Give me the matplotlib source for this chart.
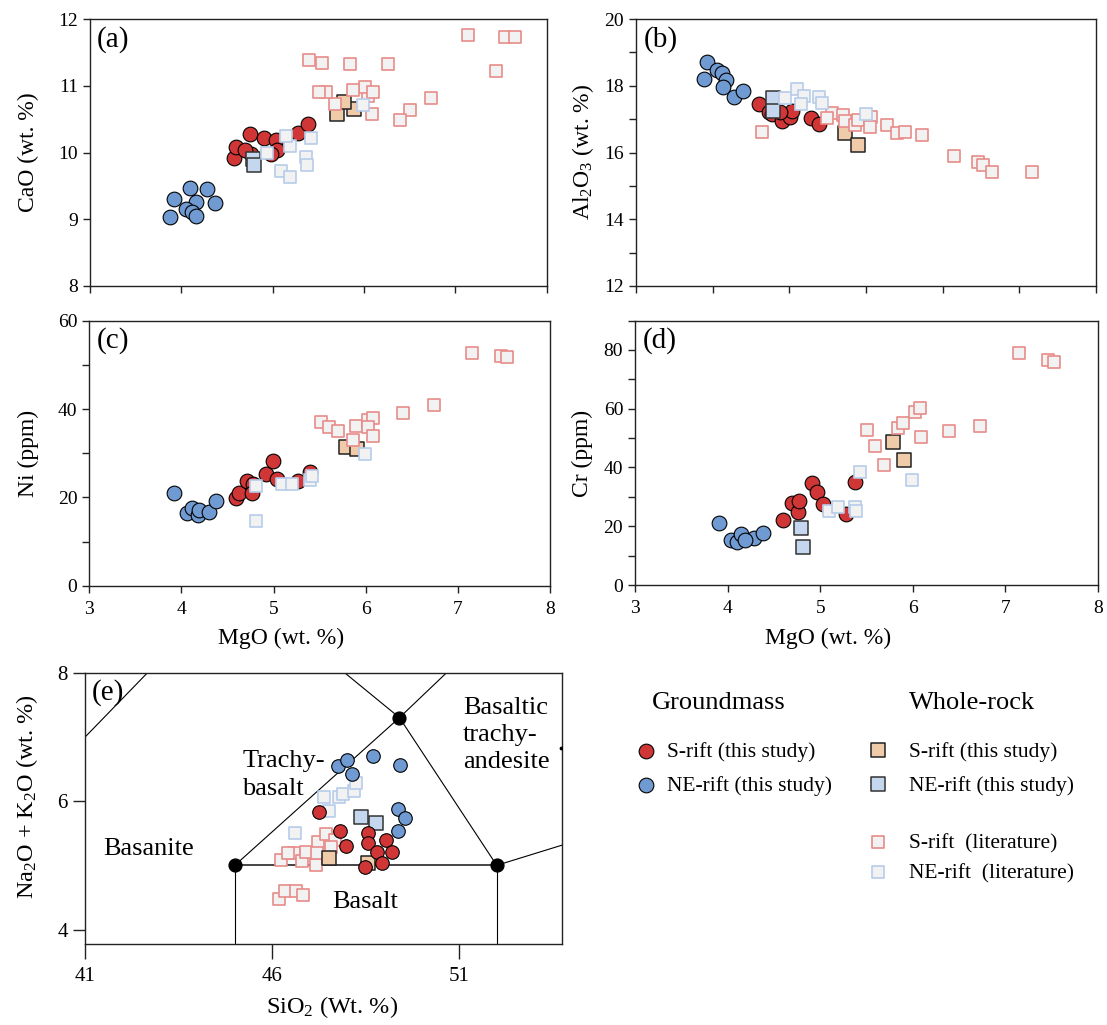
import matplotlib
matplotlib.use("Agg")
import matplotlib.pyplot as plt

plt.rcParams['font.family'] = ['Liberation Serif', 'DejaVu Serif']
plt.rcParams['mathtext.fontset'] = 'custom'
plt.rcParams['mathtext.rm'] = 'Liberation Serif'
plt.rcParams['mathtext.it'] = 'Liberation Serif:italic'

W, H = 1107, 1025

# colours
red_gm = "#D03636"
blue_gm = "#6F9AD2"
tan_wr = "#F0CBAA"
blue_wr = "#C4D7EE"
lit_fill = "#F2F2F2"
lit_red = "#E88C8A"
lit_blue = "#B7CCEA"

# ---- (a) MgO vs CaO
a_gm_s = [[4.58, 9.92], [4.60, 10.08], [4.75, 10.27], [4.91, 10.22], [5.04, 10.18], [5.05, 10.03],
          [4.98, 9.98], [4.77, 9.98], [4.70, 10.04], [5.28, 10.29], [5.39, 10.42]]
a_gm_ne = [[3.88, 9.04], [3.92, 9.30], [4.10, 9.47], [4.28, 9.45], [4.37, 9.25], [4.16, 9.26],
           [4.05, 9.15], [4.12, 9.11], [4.16, 9.05]]
a_wr_s = [[5.71, 10.57], [5.89, 10.65], [5.78, 10.75]]
a_wr_ne = [[4.79, 9.91], [4.80, 9.82]]
a_lit_s = [[5.40, 11.39], [5.54, 11.34], [5.85, 11.32], [6.26, 11.32], [7.14, 11.76], [7.54, 11.73],
           [7.65, 11.73], [7.45, 11.22], [6.73, 10.82], [6.50, 10.64], [6.40, 10.48], [6.09, 10.58],
           [6.04, 10.85], [6.01, 10.98], [6.10, 10.91], [5.88, 10.93], [5.68, 10.73], [5.59, 10.91],
           [5.51, 10.90]]
a_lit_ne = [[5.99, 10.71], [5.42, 10.22], [5.19, 10.10], [5.15, 10.25], [4.94, 10.00], [5.37, 9.94],
            [5.38, 9.81], [5.09, 9.72], [5.19, 9.64]]

# ---- (b) MgO vs Al2O3
b_gm_s = [[4.60, 17.45], [4.73, 17.22], [4.78, 17.15], [4.91, 16.95], [5.01, 17.05], [5.03, 17.24],
          [4.88, 17.22], [5.28, 17.04], [5.39, 16.85]]
b_gm_ne = [[3.92, 18.72], [3.89, 18.21], [4.06, 18.47], [4.12, 18.39], [4.17, 18.17], [4.13, 17.97],
           [4.28, 17.67], [4.39, 17.84]]
b_wr_s = [[5.72, 16.59], [5.90, 16.22]]
b_wr_ne = [[4.79, 17.62], [4.79, 17.25]]
b_lit_s = [[4.64, 16.60], [5.55, 17.19], [5.70, 17.12], [5.49, 17.02], [5.73, 16.94], [5.86, 16.82],
           [5.90, 16.97], [6.07, 17.05], [6.05, 16.76], [6.27, 16.82], [6.40, 16.58], [6.51, 16.62],
           [6.73, 16.52], [7.15, 15.90], [7.46, 15.72], [7.52, 15.63], [7.64, 15.43], [8.16, 15.43]]
b_lit_ne = [[4.94, 17.62], [5.10, 17.89], [5.19, 17.69], [5.15, 17.45], [5.39, 17.65], [5.42, 17.47],
            [6.00, 17.15]]

# ---- (c) MgO vs Ni
c_gm_s = [[4.59, 19.8], [4.62, 20.9], [4.71, 23.8], [4.78, 23.0], [4.77, 20.9], [4.92, 25.4],
          [4.99, 28.3], [5.04, 24.2], [5.27, 23.6], [5.40, 25.8]]
c_gm_ne = [[3.92, 20.9], [4.06, 16.4], [4.12, 17.7], [4.18, 16.0], [4.19, 17.1], [4.30, 16.8],
           [4.38, 19.2]]
c_wr_s = [[5.79, 31.3], [5.90, 30.9]]
c_lit_s = [[5.52, 37.1], [5.60, 36.0], [5.70, 35.1], [5.89, 36.2], [6.02, 37.5], [6.08, 37.9],
           [6.03, 36.0], [6.08, 33.9], [5.86, 33.0], [6.41, 39.0], [6.74, 40.9], [7.15, 52.8],
           [7.47, 52.0], [7.53, 51.7]]
c_lit_ne = [[4.81, 22.6], [5.09, 23.0], [5.20, 23.0], [5.40, 23.9], [5.42, 24.9], [5.99, 29.8],
            [4.81, 14.6]]

# ---- (d) MgO vs Cr
d_gm_s = [[4.60, 22.1], [4.70, 27.8], [4.76, 24.9], [4.77, 28.7], [4.91, 34.6], [4.97, 31.5],
          [5.03, 27.6], [5.28, 24.1], [5.38, 34.9]]
d_gm_ne = [[3.91, 21.2], [4.04, 15.3], [4.10, 14.5], [4.15, 17.3], [4.29, 15.9], [4.38, 17.6],
           [4.19, 15.3]]
d_wr_s = [[5.79, 48.7], [5.90, 42.7]]
d_wr_ne = [[4.79, 19.5], [4.81, 12.8]]
d_lit_s = [[5.51, 52.7], [5.59, 47.3], [5.69, 41.0], [5.84, 53.3], [5.89, 55.0], [6.02, 58.9],
           [6.08, 60.1], [6.09, 50.2], [6.39, 52.4], [6.73, 54.2], [7.15, 78.8], [7.46, 76.5],
           [7.52, 75.9]]
d_lit_ne = [[5.43, 38.5], [5.10, 25.2], [5.19, 26.4], [5.38, 26.6], [5.39, 25.3], [5.99, 35.7]]

# ---- (e) TAS
e_gm_s = [[47.24, 5.83], [47.81, 5.53], [47.98, 5.30], [48.57, 5.51], [48.55, 5.34], [48.80, 5.21],
          [49.04, 5.40], [49.20, 5.21], [48.92, 5.04], [48.47, 4.97]]
e_gm_ne = [[47.76, 6.54], [48.00, 6.64], [48.13, 6.43], [48.70, 6.70], [49.41, 6.57], [49.36, 5.87],
           [49.56, 5.73], [49.36, 5.53]]
e_wr_s = [[47.51, 5.12], [48.55, 5.03]]
e_wr_ne = [[48.37, 5.76], [48.77, 5.66]]
e_lit_s = [[46.23, 5.09], [46.57, 5.19], [46.79, 5.07], [46.89, 5.20], [47.16, 5.00], [47.22, 5.37],
           [47.43, 5.49], [47.68, 5.39], [47.19, 5.19], [47.58, 5.29], [46.42, 5.19], [46.17, 4.47],
           [46.35, 4.60], [46.64, 4.60], [46.82, 4.54]]
e_lit_ne = [[46.61, 5.51], [47.39, 6.07], [47.78, 6.07], [47.88, 6.11], [48.18, 6.15], [48.25, 6.28],
            [47.53, 5.85]]

tas_lines = [[(41, 7), (45, 9.4)], [(45, 9.4), (49.4, 7.3)], [(49.4, 7.3), (53, 9.3)],
             [(45, 5), (49.4, 7.3)], [(49.4, 7.3), (52, 5)], [(45, 0), (45, 5)],
             [(52, 0), (52, 5)], [(52, 5), (57, 5.9)]]
tas_base = [(45, 5), (52, 5)]
tas_nodes = [(45, 5), (49.4, 7.3), (52, 5)]
tas_fields = [("Basaltic\ntrachy-\nandesite", 51.1, 7.03), ("Trachy-\nbasalt", 45.2, 6.41),
              ("Basanite", 41.48, 5.25), ("Basalt", 47.6, 4.43)]


def px_box(l, t, r, b):
    return [l / W, 1 - b / H, (r - l) / W, (b - t) / H]


def fig_text(x, y, s, **kw):
    fig.text(x / W, 1 - y / H, s, ha=kw.pop("ha", "center"), va=kw.pop("va", "center"), **kw)


def scat(ax, pts, kind, k=1.0, z=3):
    if not pts:
        return
    xs = [p[0] for p in pts]
    ys = [p[1] for p in pts]
    if kind == "gm_s":
        ax.scatter(xs, ys, s=112 * k, marker="o", c=red_gm, edgecolors="black", linewidths=0.8, zorder=z)
    elif kind == "gm_ne":
        ax.scatter(xs, ys, s=112 * k, marker="o", c=blue_gm, edgecolors="black", linewidths=0.8, zorder=z)
    elif kind == "wr_s":
        ax.scatter(xs, ys, s=110 * k, marker="s", c=tan_wr, edgecolors="#222222", linewidths=1.1, zorder=z)
    elif kind == "wr_ne":
        ax.scatter(xs, ys, s=110 * k, marker="s", c=blue_wr, edgecolors="#333333", linewidths=1.1, zorder=z)
    elif kind == "lit_s":
        ax.scatter(xs, ys, s=85 * k, marker="s", c=lit_fill, edgecolors=lit_red, linewidths=1.2, zorder=z)
    elif kind == "lit_ne":
        ax.scatter(xs, ys, s=85 * k, marker="s", c=lit_fill, edgecolors=lit_blue, linewidths=1.2, zorder=z)


def style_axes(ax, size=14):
    for sp in ax.spines.values():
        sp.set_linewidth(1.0)
        sp.set_color("#222222")
    ax.tick_params(axis="both", which="both", direction="out", top=False, right=False,
                   labelsize=size, width=1.0, color="#222222")
    ax.tick_params(axis="both", which="major", length=5)
    ax.tick_params(axis="both", which="minor", length=5)


fig = plt.figure(figsize=(W / 100, H / 100), dpi=100)

ax_a = fig.add_axes(px_box(89.7, 19, 546.7, 286))
ax_b = fig.add_axes(px_box(636, 19, 1096, 286))
ax_c = fig.add_axes(px_box(89.3, 320.7, 550, 585.7))
ax_d = fig.add_axes(px_box(635, 320.5, 1098, 585))
ax_e = fig.add_axes(px_box(85.2, 672.7, 562.2, 944.3))

panels = [
    (ax_a, a_gm_s, a_gm_ne, a_wr_s, a_wr_ne, a_lit_s, a_lit_ne),
    (ax_b, b_gm_s, b_gm_ne, b_wr_s, b_wr_ne, b_lit_s, b_lit_ne),
    (ax_c, c_gm_s, c_gm_ne, c_wr_s, [], c_lit_s, c_lit_ne),
    (ax_d, d_gm_s, d_gm_ne, d_wr_s, d_wr_ne, d_lit_s, d_lit_ne),
]
for ax, gs, gn, ws, wn, ls, ln in panels:
    scat(ax, gs, "gm_s", z=3)
    scat(ax, gn, "gm_ne", z=3)
    scat(ax, ws, "wr_s", z=4)
    scat(ax, wn, "wr_ne", z=4)
    scat(ax, ls, "lit_s", z=5)
    scat(ax, ln, "lit_ne", z=5)
    style_axes(ax)

# axis ranges and ticks
ax_a.set_xlim(3, 8)
ax_a.set_ylim(8, 12)
ax_a.set_xticks(range(3, 9))
ax_a.set_xticklabels([])
ax_a.set_yticks(range(8, 13))

ax_b.set_xlim(3, 9)
ax_b.set_ylim(12, 20)
ax_b.set_xticks(range(3, 10))
ax_b.set_xticklabels([])
ax_b.set_yticks(range(12, 21, 2))
ax_b.set_yticks(range(13, 20, 2), minor=True)

ax_c.set_xlim(3, 8)
ax_c.set_ylim(0, 60)
ax_c.set_xticks(range(3, 9))
ax_c.set_yticks(range(0, 61, 20))
ax_c.set_yticks(range(10, 60, 20), minor=True)

ax_d.set_xlim(3, 8)
ax_d.set_ylim(0, 90)
ax_d.set_xticks(range(3, 9))
ax_d.set_yticks(range(0, 81, 20))
ax_d.set_yticks(range(10, 91, 20), minor=True)

for ax in (ax_c, ax_d):
    ax.tick_params(axis="x", pad=6)

panel_tags = [(ax_a, "(a)"), (ax_b, "(b)"), (ax_c, "(c)"), (ax_d, "(d)")]
for ax, tag in panel_tags:
    ax.text(0.016, 0.975, tag, transform=ax.transAxes, ha="left", va="top", fontsize=21)

# ---- (e) TAS diagram
for seg in tas_lines:
    ax_e.plot([seg[0][0], seg[1][0]], [seg[0][1], seg[1][1]], color="black", lw=0.8, zorder=2)
ax_e.plot([p[0] for p in tas_base], [p[1] for p in tas_base], color="#444444", lw=1.4, zorder=2)
ax_e.scatter([p[0] for p in tas_nodes], [p[1] for p in tas_nodes], s=85, c="black", zorder=6)
ax_e.scatter([53.72], [6.82], s=3, c="black", zorder=6)

scat(ax_e, e_lit_s, "lit_s", k=0.85, z=3)
scat(ax_e, e_lit_ne, "lit_ne", k=0.85, z=3)
scat(ax_e, e_wr_s, "wr_s", k=0.85, z=4)
scat(ax_e, e_wr_ne, "wr_ne", k=0.85, z=4)
scat(ax_e, e_gm_s, "gm_s", k=0.85, z=5)
scat(ax_e, e_gm_ne, "gm_ne", k=0.85, z=5)

for label, x, y in tas_fields:
    ax_e.text(x, y, label, ha="left", va="center", fontsize=19, linespacing=1.32, zorder=7)

ax_e.set_xlim(41, 53.75)
ax_e.set_ylim(3.77, 8)
ax_e.set_xticks([41, 46, 51])
ax_e.set_yticks([4, 6, 8])
style_axes(ax_e, size=15)
ax_e.tick_params(axis="x", length=11, pad=5)
ax_e.tick_params(axis="y", length=9)
ax_e.text(0.014, 0.975, "(e)", transform=ax_e.transAxes, ha="left", va="top", fontsize=21)

# ---- axis labels
fig_text(28, 152, "CaO (wt. %)", rotation=90, fontsize=17)
fig_text(583, 152, "Al$_2$O$_3$ (wt. %)", rotation=90, fontsize=17)
fig_text(28, 453, "Ni (ppm)", rotation=90, fontsize=17)
fig_text(582, 453, "Cr (ppm)", rotation=90, fontsize=17)
fig_text(27, 797, "Na$_2$O + K$_2$O (wt. %)", rotation=90, fontsize=17.5)
fig_text(281, 638, "MgO (wt. %)", fontsize=17)
fig_text(828, 638, "MgO (wt. %)", fontsize=17)
fig_text(332, 1007, "SiO$_2$ (Wt. %)", fontsize=17.5)

# ---- legend
leg = fig.add_axes([0, 0, 1, 1])
leg.set_xlim(0, W)
leg.set_ylim(H, 0)
leg.axis("off")
leg.text(719, 703, "Groundmass", ha="center", va="center", fontsize=19)
leg.text(972, 703, "Whole-rock", ha="center", va="center", fontsize=19)
gm_entries = [("S-rift (this study)", red_gm), ("NE-rift (this study)", blue_gm)]
for i, (lab, col) in enumerate(gm_entries):
    yy = 752 + 34 * i
    leg.scatter([646], [yy - 1], s=112, marker="o", c=col, edgecolors="black", linewidths=0.8)
    leg.text(667, yy, lab, ha="left", va="center", fontsize=15.5)
wr_entries = [("S-rift (this study)", tan_wr, "#222222", 752, 110, 1.1),
              ("NE-rift (this study)", blue_wr, "#333333", 786, 110, 1.1),
              ("S-rift  (literature)", lit_fill, lit_red, 844, 85, 1.2),
              ("NE-rift  (literature)", lit_fill, lit_blue, 874, 85, 1.2)]
for lab, fc, ec, yy, sz, lw in wr_entries:
    leg.scatter([878], [yy - 2], s=sz, marker="s", c=fc, edgecolors=ec, linewidths=lw)
    leg.text(909, yy, lab, ha="left", va="center", fontsize=15.5)

fig.savefig("out.png", dpi=100)
